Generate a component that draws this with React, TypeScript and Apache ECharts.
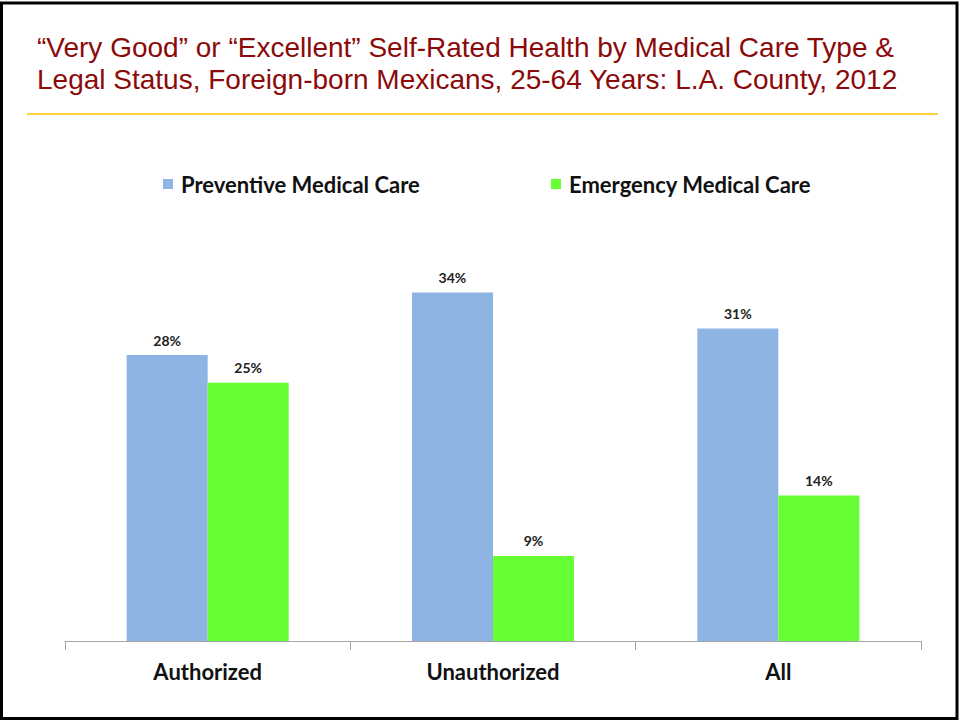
import React, { useEffect, useRef } from "react";
import * as echarts from "echarts";

const categories = ["Authorized", "Unauthorized", "All"];
const preventiveValues = [27.9, 34.0, 30.5];
const emergencyValues = [25.2, 8.3, 14.2];
const preventiveLabels = ["28%", "34%", "31%"];
const emergencyLabels = ["25%", "9%", "14%"];
const seriesNames = ["Preventive Medical Care", "Emergency Medical Care"];
const titleLines = [
  "\u201CVery Good\u201D or \u201CExcellent\u201D Self-Rated Health by Medical Care Type &",
  "Legal Status, Foreign-born Mexicans, 25-64 Years: L.A. County, 2012",
];

const LABEL_FONT = "Lato, 'Open Sans', 'DejaVu Sans', sans-serif";

export default function App() {
  const ref = useRef<HTMLDivElement>(null);
  useEffect(() => {
    if (!ref.current) return;
    const chart = echarts.init(ref.current, null, { renderer: "svg" });
    const legendBase = {
      top: 173,
      padding: 0,
      itemWidth: 10,
      itemHeight: 10,
      icon: "rect",
      textStyle: {
        fontFamily: LABEL_FONT,
        fontWeight: "bold",
        fontSize: 22,
        color: "#111",
        padding: [0, 0, 0, 3],
      },
    };
    const labelStyle = {
      show: true,
      position: "top",
      distance: 8,
      fontFamily: LABEL_FONT,
      fontWeight: "bold",
      fontSize: 14,
      color: "#222",
    };
    chart.setOption({
      animation: false,
      backgroundColor: "#ffffff",
      legend: [
        { ...legendBase, left: 163, data: [seriesNames[0]] },
        { ...legendBase, left: 551, data: [seriesNames[1]] },
      ],
      grid: { left: 65, right: 39, top: 231, bottom: 80, containLabel: false },
      xAxis: {
        type: "category",
        data: categories,
        boundaryGap: true,
        axisLine: { lineStyle: { color: "#a6a6a6", width: 1 } },
        axisTick: { show: true, length: 9, lineStyle: { color: "#a6a6a6" } },
        axisLabel: {
          fontFamily: LABEL_FONT,
          fontWeight: "bold",
          fontSize: 22,
          color: "#111",
          margin: 19,
        },
      },
      yAxis: {
        type: "value",
        min: 0,
        max: 40,
        show: false,
        splitLine: { show: false },
      },
      series: [
        {
          name: seriesNames[0],
          type: "bar",
          data: preventiveValues,
          barWidth: "28.4%",
          barGap: "0%",
          itemStyle: { color: "#8DB4E2" },
          label: { ...labelStyle, formatter: (p: any) => preventiveLabels[p.dataIndex] },
        },
        {
          name: seriesNames[1],
          type: "bar",
          data: emergencyValues,
          barWidth: "28.4%",
          barGap: "0%",
          itemStyle: { color: "#66FF33" },
          label: { ...labelStyle, formatter: (p: any) => emergencyLabels[p.dataIndex] },
        },
      ],
      graphic: [
        {
          type: "rect",
          shape: { x: 1.5, y: 3, width: 955.5, height: 715.5 },
          style: { fill: "none", stroke: "#000", lineWidth: 3 },
          silent: true,
        },
        {
          type: "text",
          x: 37,
          y: 47,
          style: {
            text: titleLines[0],
            fontFamily: "'Liberation Sans', Arial, sans-serif",
            fontSize: 28,
            fill: "#8B0A0A",
            verticalAlign: "middle",
          },
        },
        {
          type: "text",
          x: 37,
          y: 79,
          style: {
            text: titleLines[1],
            fontFamily: "'Liberation Sans', Arial, sans-serif",
            fontSize: 28,
            fill: "#8B0A0A",
            verticalAlign: "middle",
          },
        },
        {
          type: "line",
          shape: { x1: 27, y1: 114, x2: 938, y2: 114 },
          style: { stroke: "#FFC000", lineWidth: 1.5 },
          silent: true,
        },
      ],
    });
    return () => chart.dispose();
  }, []);
  return (
    <div
      ref={ref}
      style={{ position: "absolute", left: 0, top: 0, width: 960, height: 721 }}
    />
  );
}
